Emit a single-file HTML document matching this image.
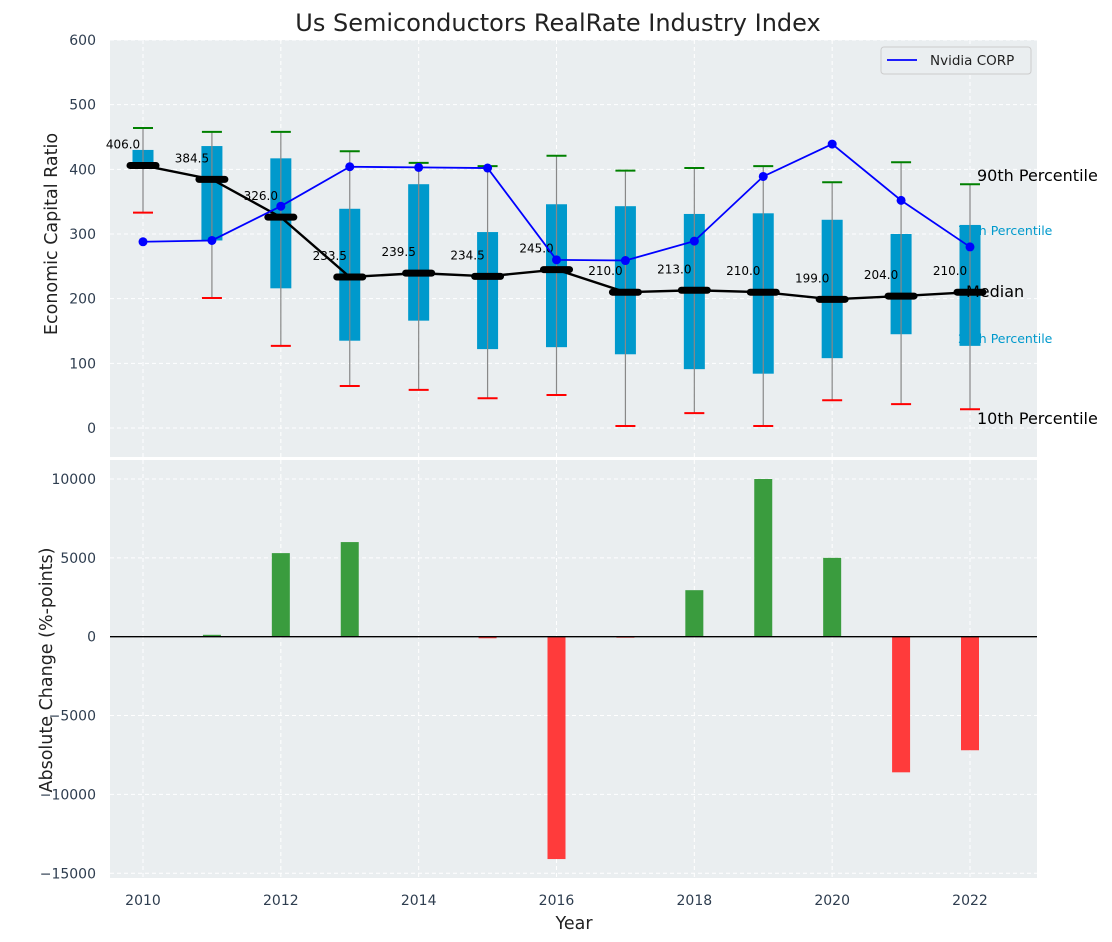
<!DOCTYPE html>
<html><head><meta charset="utf-8"><style>
body{margin:0;background:#fff;}
svg{display:block;font-family:"DejaVu Sans","Liberation Sans",sans-serif;}
</style></head><body>
<svg id="chart" width="1112" height="942"></svg>
<script>
const years=[2010,2011,2012,2013,2014,2015,2016,2017,2018,2019,2020,2021,2022];
const p90=[464,458,458,428,410,405,421,398,402,405,380,411,377];
const p75=[430,436,417,339,377,303,346,343,331,332,322,300,314];
const medians=[406.0,384.5,326.0,233.5,239.5,234.5,245.0,210.0,213.0,210.0,199.0,204.0,210.0];
const p25=[404,290,216,135,166,122,125,114,91,84,108,145,127];
const p10=[333,201,127,65,59,46,51,3,23,3,43,37,29];
const nvidia=[288,290,343,404,403,402,260,259,289,389,439,352,280];
const changes=[0,120,5300,6000,0,-100,-14100,-50,2950,10000,5000,-8600,-7200];
const topTicks=[0,100,200,300,400,500,600];
const botTicks=[-15000,-10000,-5000,0,5000,10000];

const NS='http://www.w3.org/2000/svg';
const svg=document.getElementById('chart');
function el(tag,attrs,parent){const e=document.createElementNS(NS,tag);for(const k in attrs)e.setAttribute(k,attrs[k]);(parent||svg).appendChild(e);return e;}
const L=110,R=1037;
const xS=y=>143+(y-2010)*(970-143)/12;
const yT=v=>428-v*(428-40)/600;
const yB=v=>636.7-v*157.7/10000;

const bg1=el('rect',{x:L,y:40,width:R-L,height:417,fill:'#eaeef0'});

const bg2=el('rect',{x:L,y:460,width:R-L,height:418,fill:'#eaeef0'});


years.filter(y=>y%2===0).forEach(y=>{
  el('line',{x1:xS(y),x2:xS(y),y1:40,y2:457,stroke:'#fff','stroke-dasharray':'4,3','stroke-width':1});
  el('line',{x1:xS(y),x2:xS(y),y1:460,y2:878,stroke:'#fff','stroke-dasharray':'4,3','stroke-width':1});
  const t=el('text',{x:xS(y),y:905,'text-anchor':'middle','font-size':14,fill:'#2e3d4f'});t.textContent=y;
  
});
topTicks.forEach(v=>{
  el('line',{x1:L,x2:R,y1:yT(v),y2:yT(v),stroke:'#fff','stroke-dasharray':'4,3'});
  const t=el('text',{x:96,y:yT(v)+5,'text-anchor':'end','font-size':14,fill:'#2e3d4f'});t.textContent=v;
  
});
botTicks.forEach(v=>{
  el('line',{x1:L,x2:R,y1:yB(v),y2:yB(v),stroke:'#fff','stroke-dasharray':'4,3'});
  const t=el('text',{x:96,y:yB(v)+5,'text-anchor':'end','font-size':14,fill:'#2e3d4f'});t.textContent=v<0?'\u2212'+(-v):v;
  
});

// annotations (behind boxes)
[['90th Percentile',977,181,16,'#000'],['75th Percentile',958,235,12.5,'#0099cc'],['25th Percentile',958,343,12.5,'#0099cc'],['10th Percentile',977,424,16,'#000']].forEach(a=>{
  const t=el('text',{x:a[1],y:a[2],'font-size':a[3],fill:a[4]});t.textContent=a[0];
  
});

years.forEach((y,i)=>{
  const x=xS(y);
  const b=el('rect',{x:x-10.5,y:yT(p75[i]),width:21,height:yT(p25[i])-yT(p75[i]),fill:'#0099cc'});
  
  el('line',{x1:x,x2:x,y1:yT(p90[i]),y2:yT(p10[i]),stroke:'#888','stroke-width':1.2});
  const c1=el('line',{x1:x-10,x2:x+10,y1:yT(p90[i]),y2:yT(p90[i]),stroke:'green','stroke-width':2});
  
  const c2=el('line',{x1:x-10,x2:x+10,y1:yT(p10[i]),y2:yT(p10[i]),stroke:'red','stroke-width':2});
  
});
const mp=el('polyline',{points:years.map((y,i)=>xS(y)+','+yT(medians[i])).join(' '),fill:'none',stroke:'#000','stroke-width':2.4});

years.forEach((y,i)=>{
  const m=el('line',{x1:xS(y)-13,x2:xS(y)+13,y1:yT(medians[i]),y2:yT(medians[i]),stroke:'#000','stroke-width':7,'stroke-linecap':'round'});
  
  const t=el('text',{x:xS(y)-20,y:yT(medians[i])-17,'text-anchor':'middle','font-size':12,fill:'#000'});t.textContent=medians[i].toFixed(1);
  
});
const np=el('polyline',{points:years.map((y,i)=>xS(y)+','+yT(nvidia[i])).join(' '),fill:'none',stroke:'#0000ff','stroke-width':1.8});

years.forEach((y,i)=>{
  const c=el('circle',{cx:xS(y),cy:yT(nvidia[i]),r:4.5,fill:'#0000ff'});
  
});
let mt=el('text',{x:966,y:297,'font-size':16,fill:'#000'});mt.textContent='Median';


const lg=el('g',{});
el('rect',{x:881,y:47,width:150,height:27,rx:3,fill:'#eaeef0',stroke:'#ccc'},lg);
el('line',{x1:887,x2:917,y1:60,y2:60,stroke:'#0000ff','stroke-width':1.8},lg);
const lt=el('text',{x:930,y:65,'font-size':13.5,fill:'#222'},lg);lt.textContent='Nvidia CORP';

years.forEach((y,i)=>{
  const v=changes[i];if(v===0)return;
  const y0=yB(0),y1=yB(v);
  const r=el('rect',{x:xS(y)-9,y:Math.min(y0,y1),width:18,height:Math.max(1,Math.abs(y1-y0)),fill:v>=0?'#3a9c3e':'#ff3b3b'});
  
});
el('line',{x1:L,x2:R,y1:yB(0),y2:yB(0),stroke:'#000','stroke-width':1.3});

let t=el('text',{x:558,y:31,'text-anchor':'middle','font-size':24,fill:'#222'});t.textContent='Us Semiconductors RealRate Industry Index';

t=el('text',{x:0,y:0,'text-anchor':'middle','font-size':17.5,fill:'#222',transform:'translate(57,234) rotate(-90)'});t.textContent='Economic Capital Ratio';

t=el('text',{x:0,y:0,'text-anchor':'middle','font-size':17.5,fill:'#222',transform:'translate(52,670) rotate(-90)'});t.textContent='Absolute Change (%-points)';

t=el('text',{x:574,y:929,'text-anchor':'middle','font-size':17.5,fill:'#222'});t.textContent='Year';

</script>
</body></html>
